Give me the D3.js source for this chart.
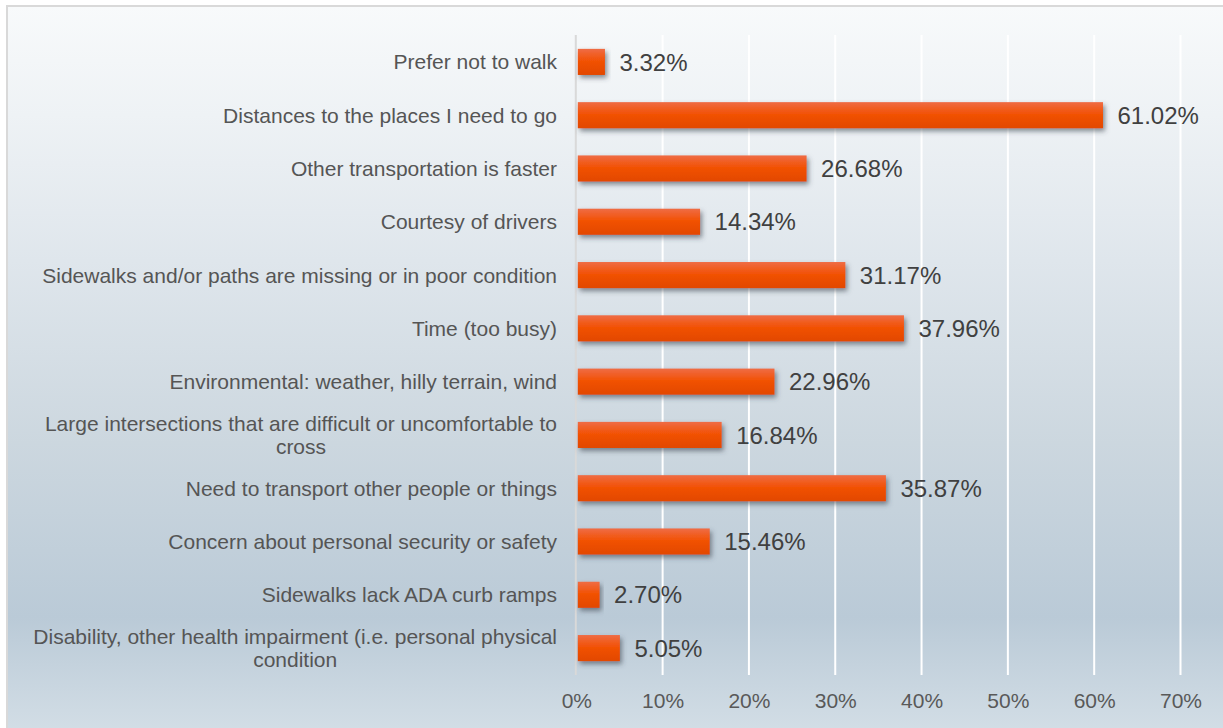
<!DOCTYPE html>
<html>
<head>
<meta charset="utf-8">
<script src="https://cdn.jsdelivr.net/npm/d3@7/dist/d3.min.js"></script>
<style>
  html, body { margin: 0; padding: 0; background: #ffffff; }
  svg { display: block; }
  text { font-family: "Liberation Sans", Arial, sans-serif; }
</style>
</head>
<body>
<svg id="chart" width="1223" height="728"></svg>
<script>
const categories = [
  "Prefer not to walk",
  "Distances to the places I need to go",
  "Other transportation is faster",
  "Courtesy of drivers",
  "Sidewalks and/or paths are missing or in poor condition",
  "Time (too busy)",
  "Environmental: weather, hilly terrain, wind",
  "Large intersections that are difficult or uncomfortable to cross",
  "Need to transport other people or things",
  "Concern about personal security or safety",
  "Sidewalks lack ADA curb ramps",
  "Disability, other health impairment (i.e. personal physical condition"
];
const values = [3.32, 61.02, 26.68, 14.34, 31.17, 37.96, 22.96, 16.84, 35.87, 15.46, 2.70, 5.05];
const tickValues = [0, 10, 20, 30, 40, 50, 60, 70];

const W = 1223, H = 728;
const svg = d3.select("#chart");
const defs = svg.append("defs");

const bg = defs.append("linearGradient").attr("id", "bg")
  .attr("x1", 0).attr("y1", 0).attr("x2", 0).attr("y2", 1);
[[0, "#f8fafb"], [0.15, "#eef2f5"], [0.35, "#dfe6ec"], [0.6, "#ccd7df"], [0.84, "#bacad7"], [1, "#d3dee6"]]
  .forEach(([o, c]) => bg.append("stop").attr("offset", o).attr("stop-color", c));

const barG = defs.append("linearGradient").attr("id", "barg")
  .attr("x1", 0).attr("y1", 0).attr("x2", 0).attr("y2", 1);
[[0, "#ef6c45"], [0.45, "#f25206"], [1, "#e24800"]]
  .forEach(([o, c]) => barG.append("stop").attr("offset", o).attr("stop-color", c));

const f = defs.append("filter").attr("id", "shadow")
  .attr("x", "-20%").attr("y", "-40%").attr("width", "140%").attr("height", "200%");
f.append("feDropShadow").attr("dx", 2).attr("dy", 3).attr("stdDeviation", 2.5)
  .attr("flood-color", "#3a4550").attr("flood-opacity", 0.6);

// background box
svg.append("rect").attr("x", 7).attr("y", 6).attr("width", W).attr("height", H)
  .attr("fill", "url(#bg)").attr("stroke", "#d9d9d9").attr("stroke-width", 2);

const x = d3.scaleLinear().domain([0, 70]).range([576.3, 1180.5]);
const y = d3.scaleBand().domain(categories).range([35, 675])
  .paddingInner(0.51).paddingOuter(0.26);

// gridlines
svg.append("g").selectAll("line").data(tickValues.filter(d => d > 0)).join("line")
  .attr("x1", d => x(d)).attr("x2", d => x(d))
  .attr("y1", 35).attr("y2", 675)
  .attr("stroke", "#ffffff").attr("stroke-width", 2);

// axis line at 0
svg.append("line").attr("x1", x(0) - 0.5).attr("x2", x(0) - 0.5)
  .attr("y1", 35).attr("y2", 675).attr("stroke", "#d9d9d9").attr("stroke-width", 2);

// x axis tick labels
const xAxis = d3.axisBottom(x).tickValues(tickValues).tickFormat(d => d + "%").tickSize(0).tickPadding(0);
const gx = svg.append("g").attr("transform", "translate(0,697)").call(xAxis);
gx.select(".domain").remove();
gx.selectAll("text").attr("font-size", 21).attr("fill", "#595959")
  .attr("font-family", "'Liberation Sans', Arial, sans-serif").attr("dy", "0.5em");

// bars
svg.append("g").selectAll("rect").data(categories).join("rect")
  .attr("x", x(0) + 1.5)
  .attr("y", d => y(d))
  .attr("width", (d, i) => x(values[i]) - x(0) - 1.5)
  .attr("height", y.bandwidth())
  .attr("fill", "url(#barg)")
  .attr("filter", "url(#shadow)");

// value labels
svg.append("g").selectAll("text").data(categories).join("text")
  .attr("x", (d, i) => x(values[i]) + 14.5)
  .attr("y", d => y(d) + y.bandwidth() / 2)
  .attr("dy", "0.36em")
  .attr("font-size", 24)
  .attr("fill", "#404040")
  .text((d, i) => values[i].toFixed(2) + "%");

// category labels with wrapping
const labelRight = 557;
const maxW = 545;
const lineH = 23;
const lg = svg.append("g");
categories.forEach(cat => {
  const t = lg.append("text").attr("font-size", 21).attr("fill", "#555555")
    .attr("text-anchor", "middle");
  const words = cat.split(" ");
  const lines = [];
  let cur = [];
  const probe = t.append("tspan");
  words.forEach(w => {
    const test = cur.concat([w]).join(" ");
    probe.text(test);
    if (probe.node().getComputedTextLength() > maxW && cur.length) {
      lines.push(cur.join(" "));
      cur = [w];
    } else cur.push(w);
  });
  lines.push(cur.join(" "));
  let widest = 0;
  lines.forEach(l => { probe.text(l); widest = Math.max(widest, probe.node().getComputedTextLength()); });
  probe.remove();
  const cx = labelRight - widest / 2;
  const cy = y(cat) + y.bandwidth() / 2;
  const y0 = cy - (lines.length - 1) * lineH / 2;
  lines.forEach((l, i) => {
    t.append("tspan").attr("x", cx).attr("y", y0 + i * lineH).attr("dy", "0.36em").text(l);
  });
});
</script>
</body>
</html>
